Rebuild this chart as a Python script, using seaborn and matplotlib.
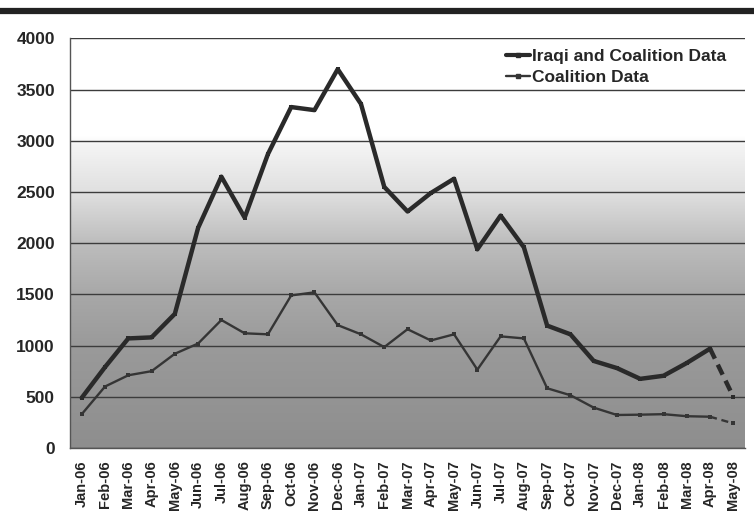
import matplotlib
matplotlib.use("Agg")
import matplotlib.pyplot as plt
import numpy as np
import pandas as pd
import seaborn as sns
from matplotlib.colors import LinearSegmentedColormap
from matplotlib.lines import Line2D

# --- Data ---
months = [
    "Jan-06", "Feb-06", "Mar-06", "Apr-06", "May-06", "Jun-06", "Jul-06",
    "Aug-06", "Sep-06", "Oct-06", "Nov-06", "Dec-06", "Jan-07", "Feb-07",
    "Mar-07", "Apr-07", "May-07", "Jun-07", "Jul-07", "Aug-07", "Sep-07",
    "Oct-07", "Nov-07", "Dec-07", "Jan-08", "Feb-08", "Mar-08", "Apr-08",
    "May-08",
]
iraqi_coalition = [
    490, 790, 1070, 1080, 1310, 2150, 2650, 2250, 2870, 3330, 3300, 3700,
    3360, 2550, 2310, 2490, 2630, 1940, 2270, 1960, 1195, 1110, 850, 780,
    675, 705, 830, 970, 500,
]
coalition = [
    330, 600, 710, 750, 920, 1020, 1250, 1120, 1110, 1490, 1520, 1200,
    1110, 985, 1160, 1050, 1110, 765, 1090, 1070, 583, 515, 394, 322,
    325, 330, 310, 305, 240,
]
y_ticks = [0, 500, 1000, 1500, 2000, 2500, 3000, 3500, 4000]

df = pd.DataFrame({
    "month": months,
    "pos": np.arange(len(months)),
    "Iraqi and Coalition Data": iraqi_coalition,
    "Coalition Data": coalition,
})
solid = df.iloc[:-1]   # up to Apr-08
dashed = df.iloc[-2:]  # Apr-08 -> May-08 (projected)

sns.set_style("white")
plt.rcParams["font.family"] = ["Liberation Sans", "DejaVu Sans"]
plt.rcParams["font.weight"] = "bold"

fig = plt.figure(figsize=(7.54, 5.27), dpi=100)
ax = fig.add_axes([0.093, 0.15, 0.895, 0.777])

# --- Gradient background: white on top, darker grey towards zero ---
bg = LinearSegmentedColormap.from_list(
    "bg",
    [(0.0, "#8e8e8e"), (0.25, "#9a9a9a"), (0.375, "#a8a8a8"),
     (0.5, "#bdbdbd"), (0.625, "#e0e0e0"), (0.74, "#f4f4f4"),
     (0.76, "#ffffff"), (1.0, "#ffffff")],
)
grad = np.linspace(0, 1, 256).reshape(-1, 1)
ax.imshow(grad, cmap=bg, origin="lower", aspect="auto",
          extent=[-0.5, len(months) - 0.5, 0, 4000], zorder=0)

# --- Gridlines ---
for yv in y_ticks:
    ax.axhline(yv, color="#3c3c3c", lw=1.0, zorder=1)

# --- Lines ---
big = dict(color="#2a2a2a", lw=3.2, marker="s", markersize=3,
           markeredgewidth=0, zorder=3)
small = dict(color="#353535", lw=1.7, marker="s", markersize=2.5,
             markeredgewidth=0, zorder=3)
sns.lineplot(data=solid, x="pos", y="Iraqi and Coalition Data", ax=ax, **big)
sns.lineplot(data=dashed, x="pos", y="Iraqi and Coalition Data", ax=ax,
             linestyle=(0, (2.5, 1.5)), **big)
sns.lineplot(data=solid, x="pos", y="Coalition Data", ax=ax, **small)
sns.lineplot(data=dashed, x="pos", y="Coalition Data", ax=ax,
             linestyle=(0, (3, 2)), **small)

# --- Axes ---
ax.set_xlim(-0.5, len(months) - 0.5)
ax.set_ylim(0, 4000)
ax.set_yticks(y_ticks)
ax.set_yticklabels([str(v) for v in y_ticks], fontsize=12.5, fontweight="bold")
ax.set_xticks(df["pos"])
ax.set_xticklabels(months, rotation=90, fontsize=10.5, fontweight="bold")
ax.set_xticks(np.arange(-0.5, len(months)), minor=True)
ax.tick_params(axis="x", which="major", length=0, pad=9)
ax.tick_params(axis="x", which="minor", length=5, width=1, color="#555555",
               direction="out")
ax.tick_params(axis="y", length=5, width=1, color="#555555", direction="out",
               pad=6)
ax.set_xlabel("")
ax.set_ylabel("")

for side in ["top", "right"]:
    ax.spines[side].set_visible(False)
for side in ["left", "bottom"]:
    ax.spines[side].set_color("#555555")
    ax.spines[side].set_linewidth(1.0)

# --- Legend ---
handles = [
    Line2D([], [], color="#2a2a2a", lw=3, marker="s", markersize=3),
    Line2D([], [], color="#353535", lw=1.7, marker="s", markersize=2.5),
]
leg = ax.legend(handles, ["Iraqi and Coalition Data", "Coalition Data"],
                loc="upper right", bbox_to_anchor=(0.995, 1.012), frameon=False,
                handlelength=1.4, handletextpad=0.1, labelspacing=0.32,
                prop={"size": 12.5, "weight": "bold"})

# --- Thick rule across the top ---
fig.add_artist(Line2D([0, 1], [0.979, 0.979], color="#222222", lw=4.5,
                      transform=fig.transFigure))

fig.savefig("out.png", dpi=100)
